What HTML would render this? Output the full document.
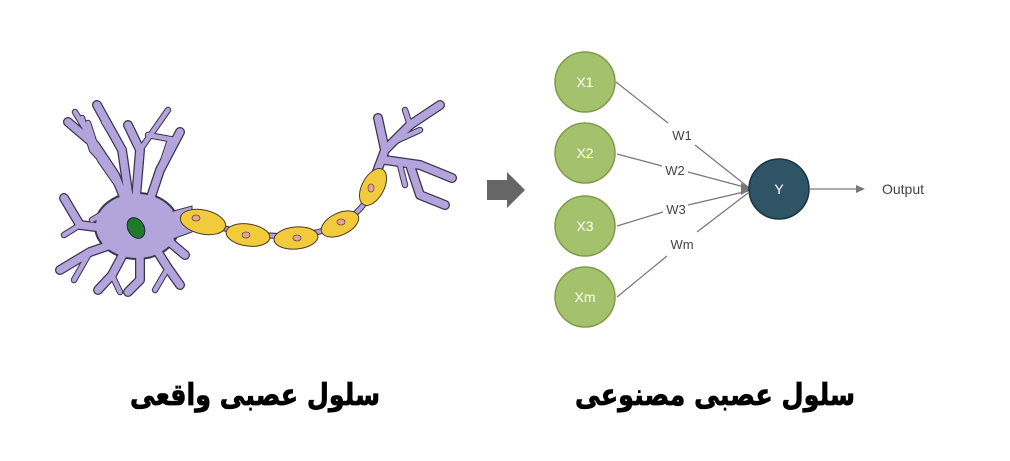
<!DOCTYPE html>
<html><head><meta charset="utf-8"><style>
html,body{margin:0;padding:0;background:#fff;width:1010px;height:461px;overflow:hidden}
</style></head><body>
<svg width="1010" height="461" viewBox="0 0 1010 461" xmlns="http://www.w3.org/2000/svg">
<defs>
<g id="dThick">
 <path d="M135 225 L115 175 L95 145 L68 122"/>
 <path d="M130 205 L122 150 L97 105"/>
 <path d="M135 210 L140 150 L128 125"/>
 <path d="M145 215 L160 170 L180 132"/>
 <path d="M120 230 L80 225 L64 198"/>
 <path d="M125 240 L90 252 L60 270"/>
 <path d="M128 245 L112 275 L98 290"/>
 <path d="M150 240 L168 268 L180 285"/>
 <path d="M140 245 L140 280 L128 292"/>
 <path d="M158 232 L185 255"/>
 <path d="M372 185 L385 150 L378 118"/>
 <path d="M385 150 L410 125 L440 105"/>
 <path d="M385 160 L420 165 L452 178"/>
 <path d="M410 165 L420 195 L445 205"/>
</g>
<g id="dThin">
 <path d="M95 145 L75 112"/><path d="M115 175 L92 150 L82 118"/><path d="M128 200 L100 160 L88 123"/><path d="M122 150 L104 122"/>
 <path d="M140 150 L168 110"/><path d="M148 135 L175 140"/><path d="M160 170 L170 140"/><path d="M80 225 L64 235"/>
 <path d="M90 252 L74 280"/><path d="M112 275 L120 292"/><path d="M168 268 L155 290"/>
 <path d="M410 125 L405 110"/><path d="M398 140 L420 130"/><path d="M400 165 L405 185"/><path d="M92 220 L102 214"/>
</g>
</defs>
<!-- outlines -->
<g fill="none" stroke="#3a3550" stroke-linecap="round" stroke-linejoin="round">
 <use href="#dThick" stroke-width="10"/>
 <use href="#dThin" stroke-width="6.5"/>
</g>
<ellipse cx="137" cy="226" rx="42" ry="33" fill="#b3a4dc" stroke="#3a3550" stroke-width="2"/>
<path d="M170 212 L192 206 L192 232 L170 240 Z" fill="#b3a4dc" stroke="#3a3550"/>
<!-- axon -->
<path d="M190 218 Q280 250 340 225 Q365 210 375 185" fill="none" stroke="#3a3550" stroke-width="6"/>
<path d="M190 218 Q280 250 340 225 Q365 210 375 185" fill="none" stroke="#b3a4dc" stroke-width="4"/>
<g fill="none" stroke="#b3a4dc" stroke-linecap="round" stroke-linejoin="round">
 <use href="#dThick" stroke-width="7.5"/>
 <use href="#dThin" stroke-width="4.5"/>
</g>
<ellipse cx="137" cy="226" rx="40" ry="31" fill="#b3a4dc"/>
<path d="M168 214 L191 208 L191 231 L168 238 Z" fill="#b3a4dc"/>
<ellipse cx="136" cy="228" rx="8" ry="11" transform="rotate(-30 136 228)" fill="#1f7a2a" stroke="#224" stroke-width="1"/>
<g fill="#f2cb3c" stroke="#4a3a20" stroke-width="1">
 <ellipse cx="203" cy="222" rx="23" ry="12" transform="rotate(12 203 222)"/>
 <ellipse cx="248" cy="235" rx="22" ry="11" transform="rotate(8 248 235)"/>
 <ellipse cx="296" cy="238" rx="22" ry="11" transform="rotate(-5 296 238)"/>
 <ellipse cx="340" cy="224" rx="20" ry="11" transform="rotate(-25 340 224)"/>
 <ellipse cx="373" cy="187" rx="20" ry="11" transform="rotate(-62 373 187)"/>
</g>
<g fill="#e8a0a0" stroke="#6a4a40" stroke-width="0.8">
 <ellipse cx="196" cy="218" rx="4" ry="3"/><ellipse cx="246" cy="235" rx="4" ry="3"/><ellipse cx="297" cy="238" rx="4" ry="3"/>
 <ellipse cx="341" cy="222" rx="4" ry="3"/><ellipse cx="371" cy="188" rx="3" ry="4"/>
</g>
<!-- arrow -->
<path d="M487 180 L507 180 L507 172 L525 190 L507 208 L507 200 L487 200 Z" fill="#666"/>
<!-- network -->
<g stroke="#777" stroke-width="1.2" fill="none">
 <line x1="616" y1="82" x2="668" y2="123"/><line x1="695" y1="145" x2="748" y2="187"/>
 <line x1="617" y1="154" x2="662" y2="166"/><line x1="688" y1="172" x2="748" y2="188"/>
 <line x1="617" y1="226" x2="663" y2="212"/><line x1="688" y1="205" x2="748" y2="191"/>
 <line x1="617" y1="297" x2="667" y2="256"/><line x1="697" y1="232" x2="748" y2="193"/>
 <line x1="810" y1="189" x2="862" y2="189"/>
</g>
<path d="M741 183 L752 189 L741 195 Z" fill="#777"/>
<path d="M856 185 L865 189 L856 193 Z" fill="#777"/>
<g fill="#a4c26c" stroke="#7f9b4c" stroke-width="1.5">
 <circle cx="585" cy="82" r="30"/><circle cx="585" cy="153" r="30"/><circle cx="585" cy="226" r="30"/><circle cx="585" cy="297" r="30"/>
</g>
<circle cx="779" cy="189" r="30" fill="#2f5466" stroke="#1b3340" stroke-width="1.5"/>
<g font-family="Liberation Sans, sans-serif" font-size="14" text-anchor="middle" fill="#fff">
 <text x="585" y="87">X1</text><text x="585" y="158">X2</text><text x="585" y="231">X3</text><text x="585" y="302">Xm</text>
 <text x="779" y="194">Y</text>
</g>
<g font-family="Liberation Sans, sans-serif" font-size="13" text-anchor="middle" fill="#444">
 <text x="682" y="140">W1</text><text x="675" y="175">W2</text><text x="676" y="214">W3</text><text x="682" y="249">Wm</text>
 <text x="903" y="194" font-size="14">Output</text>
</g>
<g font-family="'DejaVu Sans','Noto Sans CJK SC',sans-serif" font-size="30" font-weight="bold" fill="#000" stroke="#000" stroke-width="0.8" direction="rtl">
 <text x="380" y="405" textLength="250" lengthAdjust="spacingAndGlyphs">سلول عصبی واقعی</text>
 <text x="855" y="405" textLength="280" lengthAdjust="spacingAndGlyphs">سلول عصبی مصنوعی</text>
</g>
</svg>
</body></html>
